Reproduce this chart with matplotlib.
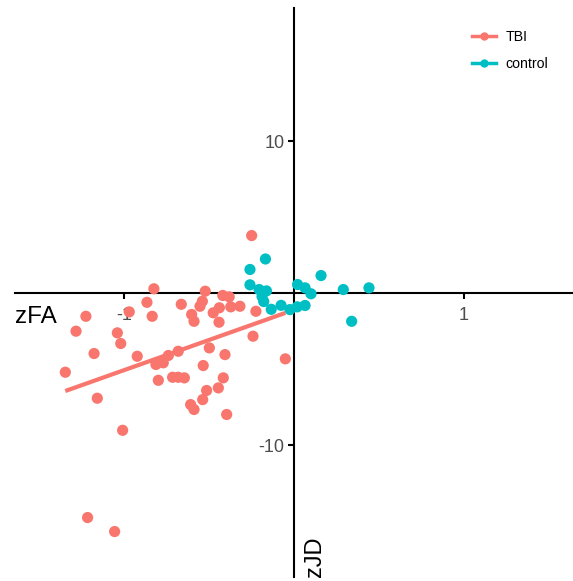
import numpy as np
import matplotlib.pyplot as plt

plt.rcParams["axes.unicode_minus"] = False

TBI_C = "#F8766D"
CTRL_C = "#00BFC4"
TICK_TXT = "#4D4D4D"

# TBI group (zFA, zJD)
tbi_fa = [-0.824, -0.865, -0.969, -0.834, -1.224, -1.282, -1.039, -1.019, -1.176, -0.922,
          -1.345, -1.157, -1.008, -0.798, -0.812, -0.769, -0.739, -0.681, -0.663, -0.522,
          -0.539, -0.553, -0.602, -0.588, -0.419, -0.381, -0.439, -0.475, -0.372, -0.318,
          -0.441, -0.241, -0.498, -0.406, -0.534, -0.714, -0.681, -0.645, -0.416, -0.514,
          -0.537, -0.445, -0.608, -0.588, -0.396, -0.249, -0.051, -0.224, -1.214, -1.055]
tbi_jd = [0.28, -0.61, -1.24, -1.53, -1.53, -2.51, -2.62, -3.32, -3.98, -4.16,
          -5.21, -6.92, -9.03, -5.74, -4.70, -4.59, -4.11, -3.83, -0.74, 0.12,
          -0.54, -0.87, -1.41, -1.86, -0.16, -0.25, -0.97, -1.30, -0.91, -0.87,
          -1.92, -2.84, -3.61, -4.05, -4.77, -5.54, -5.54, -5.58, -5.58, -6.41,
          -7.01, -6.24, -7.34, -7.66, -7.99, 3.78, -4.33, -1.20, -14.77, -15.69]

# control group
ctrl_fa = [-0.168, -0.259, -0.259, -0.205, -0.162, -0.188, -0.178, -0.134, -0.076, -0.024,
           0.021, 0.065, 0.100, 0.159, 0.290, 0.441, 0.339, 0.019, 0.065]
ctrl_jd = [2.24, 1.55, 0.54, 0.23, 0.14, -0.23, -0.56, -1.07, -0.81, -1.09,
           0.56, 0.34, -0.05, 1.15, 0.23, 0.34, -1.86, -0.91, -0.82]

x_ticks = [-1, 1]
y_ticks = [-10, 10]

W, H = 573, 581
fig = plt.figure(figsize=(W / 100, H / 100), dpi=100)
fig.patch.set_facecolor("white")
# panel: x 15..573 px, y 8..577 px (from top)
ax = fig.add_axes([15 / W, 4 / H, (W - 15) / W, (577 - 8) / H])
ax.set_xlim(-1.641, 1.641)
ax.set_ylim(-18.68, 18.75)

for s in ["top", "right"]:
    ax.spines[s].set_visible(False)
ax.spines["left"].set_position(("data", 0))
ax.spines["bottom"].set_position(("data", 0))
for s in ["left", "bottom"]:
    ax.spines[s].set_linewidth(1.5)
    ax.spines[s].set_color("black")
    ax.spines[s].set_zorder(1)

ax.set_xticks(x_ticks)
ax.set_yticks(y_ticks)
ax.tick_params(axis="both", direction="out", length=4, width=1.5, color="black",
               labelcolor=TICK_TXT, labelsize=13)
ax.tick_params(axis="x", pad=6)
ax.tick_params(axis="y", pad=3)
for lab in ax.get_xticklabels() + ax.get_yticklabels():
    lab.set_family("Liberation Sans")

# regression line for TBI
tx = np.array(tbi_fa)
ty = np.array(tbi_jd)
b1, b0 = np.polyfit(tx, ty, 1)
xs = np.linspace(tx.min(), tx.max(), 50)
ax.plot(xs, b0 + b1 * xs, color=TBI_C, lw=3, zorder=3, solid_capstyle="butt")

ax.scatter(tbi_fa, tbi_jd, s=65, color=TBI_C, edgecolors="none", zorder=2)
ax.scatter(ctrl_fa, ctrl_jd, s=65, color=CTRL_C, edgecolors="none", zorder=2)

# legend
h1, = ax.plot([], [], color=TBI_C, lw=2.5, marker="o", ms=5, label="TBI")
h2, = ax.plot([], [], color=CTRL_C, lw=2.5, marker="o", ms=5, label="control")
ax.legend(handles=[h1, h2], loc="upper left", bbox_to_anchor=(459 / W, 1 - 17 / H),
          bbox_transform=fig.transFigure, frameon=False,
          handlelength=1.7, handletextpad=0.7, labelspacing=0.95,
          prop={"family": "Liberation Sans", "size": 10.2})

# axis titles placed along the axes
ax.annotate("zFA", xy=(ax.get_xlim()[0], 0), xytext=(0, -9), textcoords="offset points",
            ha="left", va="top", fontsize=17.5, family="Liberation Sans", color="black")
ax.annotate("zJD", xy=(0, ax.get_ylim()[0]), xytext=(15, 0), textcoords="offset points",
            ha="center", va="bottom", rotation=90, fontsize=17, family="Liberation Sans",
            color="black")

fig.savefig("out.png", dpi=100, facecolor="white")
